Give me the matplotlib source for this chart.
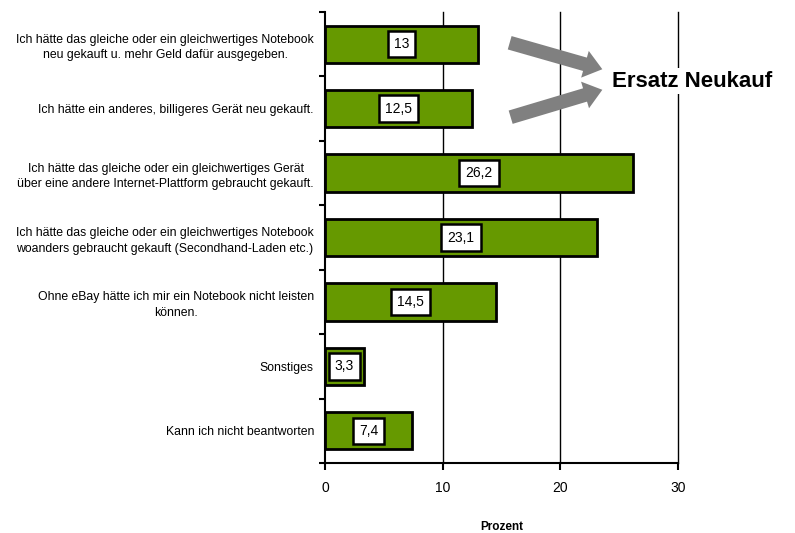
import matplotlib.pyplot as plt
import numpy as np

plt.rcParams['font.family'] = ['Liberation Sans', 'DejaVu Sans']

# survey answers, top to bottom
labels = [
    "Ich hätte das gleiche oder ein gleichwertiges Notebook\nneu gekauft u. mehr Geld dafür ausgegeben.",
    "Ich hätte ein anderes, billigeres Gerät neu gekauft.",
    "Ich hätte das gleiche oder ein gleichwertiges Gerät\nüber eine andere Internet-Plattform gebraucht gekauft.",
    "Ich hätte das gleiche oder ein gleichwertiges Notebook\nwoanders gebraucht gekauft (Secondhand-Laden etc.)",
    "Ohne eBay hätte ich mir ein Notebook nicht leisten\nkönnen.",
    "Sonstiges",
    "Kann ich nicht beantworten",
]
values = [13, 12.5, 26.2, 23.1, 14.5, 3.3, 7.4]
xticks = [0, 10, 20, 30]

fig = plt.figure(figsize=(7.95, 5.33), dpi=100)
ax = fig.add_axes([0.4088, 0.1313, 0.444, 0.8462])

n = len(values)
ypos = np.arange(n)
ax.barh(ypos, values, height=0.58, color='#669900', edgecolor='black', lw=2, zorder=3)

for y, v in zip(ypos, values):
    txt = ('%g' % v).replace('.', ',')
    ax.text(v / 2, y, txt, ha='center', va='center', fontsize=10, zorder=4,
            bbox=dict(boxstyle='square,pad=0.45', fc='white', ec='black', lw=1.8))

ax.set_xlim(0, 30)
ax.set_ylim(n - 0.5, -0.5)
ax.set_xticks(xticks)
ax.set_xticklabels([str(t) for t in xticks], fontsize=10)
for t in xticks[1:]:
    ax.axvline(t, color='black', lw=1, zorder=1, clip_on=False)

ax.set_yticks(ypos)
ax.set_yticklabels(labels, fontsize=8.8, ha='right', multialignment='center',
                   linespacing=1.4)
ax.tick_params(axis='y', which='major', length=0, pad=8)
ax.set_yticks(np.arange(n + 1) - 0.5, minor=True)
ax.tick_params(axis='y', which='minor', length=4, width=1.5, direction='out')
ax.tick_params(axis='x', length=5, width=1.5, pad=8)

for s in ['top', 'right']:
    ax.spines[s].set_visible(False)
ax.spines['left'].set_linewidth(1.5)
ax.spines['bottom'].set_linewidth(1.5)

ax.set_xlabel('Prozent', fontsize=8.5, fontweight='bold', labelpad=19)

# arrows pointing to the annotation
arrow = dict(arrowstyle='simple,head_width=2.0,head_length=1.3,tail_width=1.0',
             fc='#808080', ec='none')
ax.annotate('', xy=(605 / 795, 1 - 70 / 533), xytext=(507 / 795, 1 - 42 / 533),
            xycoords='figure fraction', textcoords='figure fraction',
            arrowprops=arrow, annotation_clip=False, zorder=5)
ax.annotate('', xy=(605 / 795, 1 - 89 / 533), xytext=(508 / 795, 1 - 118 / 533),
            xycoords='figure fraction', textcoords='figure fraction',
            arrowprops=arrow, annotation_clip=False, zorder=5)
fig.text(612 / 795, 1 - 81 / 533, 'Ersatz Neukauf', fontsize=16, fontweight='bold',
         ha='left', va='center', zorder=6,
         bbox=dict(fc='white', ec='none', pad=2))

fig.savefig('out.png', dpi=100)
